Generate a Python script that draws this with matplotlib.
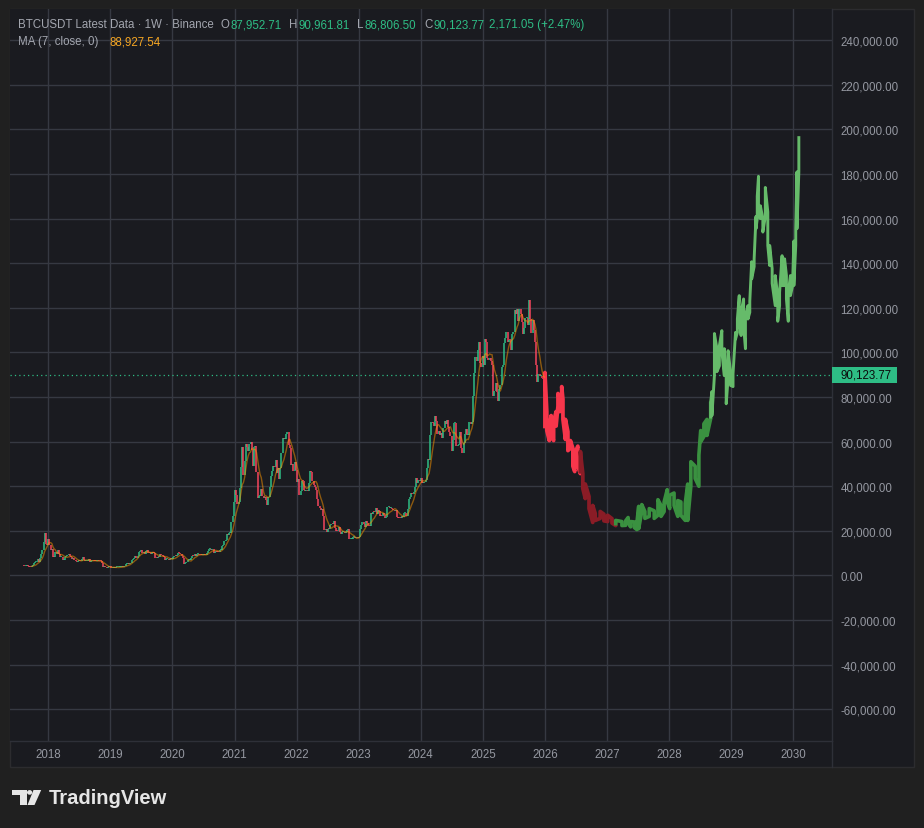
#!/usr/bin/env python

import numpy as np
import pandas as pd
import matplotlib
matplotlib.use('Agg')
import matplotlib.pyplot as plt
from matplotlib.patches import Rectangle, Circle, Polygon
from matplotlib.lines import Line2D
from matplotlib.transforms import blended_transform_factory

######################################################################
# Weekly closes of BTCUSDT (thousands of USD), one list per calendar year.
# Week starts on Monday; the open of a week is the previous close.

first_week = '2017-08-14'
first_open = 4.26

closes_2017 = [4.09, 4.35, 4.65,
               4.13, 3.70, 3.66, 4.38,
               4.61, 5.70, 6.00, 6.15, 7.35,
               5.86, 8.00, 9.78, 11.25,
               15.0, 19.1, 14.0, 13.8]
closes_2018 = [16.2, 13.6, 11.5, 11.8, 8.2,
               8.1, 10.4, 9.6, 11.5,
               9.5, 8.2, 8.5, 6.9,
               7.0, 8.3, 8.9, 9.35, 9.65,
               8.7, 8.5, 7.35, 7.7,
               6.75, 6.45, 6.15, 6.35,
               6.75, 6.35, 7.4, 8.2, 7.0,
               6.3, 6.4, 6.7, 7.3,
               6.2, 6.5, 6.7, 6.6,
               6.55, 6.3, 6.45, 6.45, 6.4,
               6.35, 5.6, 4.0, 4.1,
               3.6, 3.2, 3.95, 3.85, 4.05]
closes_2019 = [3.5, 3.55, 3.55, 3.4,
               3.65, 3.65, 3.75, 3.8,
               3.9, 4.0, 3.98, 4.1,
               5.05, 5.07, 5.3, 5.15, 5.75,
               6.95, 7.25, 8.05, 8.7,
               7.65, 8.95, 10.7, 10.8,
               11.45, 10.2, 10.55, 9.5, 10.85,
               11.3, 10.3, 10.1, 9.6,
               10.4, 10.3, 10.0, 8.05, 7.85,
               8.3, 8.2, 9.55, 9.2,
               8.8, 8.5, 6.9, 7.4,
               7.5, 7.1, 7.5, 7.3, 7.35]
closes_2020 = [8.2, 8.7, 8.6, 9.35,
               10.15, 9.9, 9.7, 8.55,
               8.05, 5.35, 5.8, 5.9, 6.8,
               6.9, 7.1, 7.7, 8.9,
               8.7, 9.7, 8.7, 9.45,
               9.65, 9.4, 9.3, 9.0, 9.1,
               9.25, 9.2, 9.9, 11.1,
               11.7, 11.85, 11.65, 11.7, 10.25,
               10.45, 11.1, 10.75, 10.65,
               11.3, 11.5, 13.05, 13.8,
               15.5, 16.0, 18.4, 18.2, 19.15,
               19.2, 23.9, 26.5, 33.0]
closes_2021 = [38.2, 36.0, 32.1, 33.1,
               39.2, 48.6, 57.4, 45.2,
               51.2, 59.0, 57.4, 55.8, 58.9,
               60.0, 56.2, 49.1, 57.8,
               58.2, 46.4, 34.7, 35.7, 35.8,
               39.0, 35.5, 34.7, 35.3,
               33.9, 31.8, 35.4, 39.8,
               44.6, 47.0, 49.3, 48.8, 51.8,
               46.1, 48.3, 43.2, 48.2,
               55.0, 61.5, 61.0, 61.3,
               63.3, 64.4, 58.6, 57.3, 49.4,
               50.1, 46.7, 50.8, 47.3]
closes_2022 = [41.9, 43.1, 36.3, 37.9, 42.4,
               42.2, 38.4, 37.7, 38.4,
               37.8, 41.3, 46.8, 46.4,
               42.2, 40.4, 39.5, 38.5,
               34.1, 31.3, 30.3, 29.4, 29.9,
               26.6, 20.6, 21.0, 19.3,
               20.9, 20.8, 22.6, 23.3,
               23.2, 24.4, 21.5, 20.0, 19.8,
               21.8, 19.4, 18.8, 19.3,
               19.4, 19.2, 19.6, 20.6, 21.0,
               16.3, 16.3, 16.5, 17.1,
               17.1, 16.8, 16.8, 16.6]
closes_2023 = [17.1, 20.9, 22.7, 23.8, 22.9,
               21.8, 24.6, 23.6, 22.4,
               22.1, 28.0, 27.5, 28.5,
               28.3, 30.3, 27.8, 29.2,
               28.9, 26.8, 26.7, 28.1, 27.2,
               25.9, 26.3, 30.5, 30.6,
               30.2, 30.2, 29.8, 29.3, 29.0,
               29.4, 26.1, 26.0, 25.9,
               25.8, 26.5, 26.3, 27.9,
               27.9, 26.8, 29.9, 34.5, 35.0,
               37.1, 36.5, 37.4, 39.5,
               43.8, 41.4, 43.0, 42.3]
closes_2024 = [43.9, 41.7, 41.6, 42.0, 43.0,
               48.3, 52.1, 51.7, 63.1,
               68.9, 68.4, 67.2, 71.3,
               69.4, 63.4, 64.9, 63.1, 64.0,
               61.5, 66.3, 69.3, 67.8,
               69.6, 66.7, 64.3, 62.7,
               55.9, 60.8, 68.2, 68.2, 58.1,
               58.7, 59.0, 64.2, 57.3,
               54.8, 59.2, 63.6, 65.6, 63.0,
               63.0, 69.0, 68.0, 68.8,
               80.4, 90.6, 97.9, 96.4,
               101.2, 104.5, 95.2, 93.7, 98.3]
closes_2025 = [94.5, 106.1, 104.8, 97.7,
               96.5, 97.5, 96.3, 94.3,
               80.7, 82.6, 86.1, 82.4, 78.4,
               83.7, 85.2, 93.7, 94.3,
               104.1, 106.5, 109.0, 104.6,
               105.7, 105.5, 100.9, 108.4, 109.2,
               119.1, 117.3, 119.4, 114.2,
               119.3, 117.4, 113.5, 108.2,
               111.1, 115.3, 115.3, 112.2, 123.5,
               115.0, 108.6, 114.5, 110.0,
               104.7, 94.3, 86.8, 90.4,
               89.3, 89.5, 88.5, 87.95271, 90.12377]

# Projected path after the last candle: bar time (decimal year), low, high (thousands)
proj_year = [2026.00, 2026.03, 2026.07, 2026.10, 2026.14, 2026.18, 2026.21, 2026.24,
             2026.27, 2026.29, 2026.33, 2026.37, 2026.41, 2026.45, 2026.48, 2026.53,
             2026.57, 2026.61, 2026.65, 2026.71, 2026.77, 2026.81, 2026.89, 2026.95,
             2027.01, 2027.08, 2027.14, 2027.24, 2027.30, 2027.34, 2027.38, 2027.44,
             2027.48, 2027.51, 2027.56, 2027.61, 2027.68, 2027.76, 2027.82, 2027.87,
             2027.92, 2027.97, 2028.01, 2028.08, 2028.14, 2028.19, 2028.26, 2028.30,
             2028.35, 2028.42, 2028.48, 2028.51, 2028.56, 2028.61, 2028.67, 2028.69,
             2028.73, 2028.77, 2028.81, 2028.85, 2028.89, 2028.92, 2028.95, 2028.99,
             2029.03, 2029.07, 2029.10, 2029.13, 2029.16, 2029.20, 2029.23, 2029.27,
             2029.30, 2029.33, 2029.37, 2029.40, 2029.42, 2029.44, 2029.47, 2029.51,
             2029.55, 2029.59, 2029.62, 2029.66, 2029.71, 2029.75, 2029.78, 2029.82,
             2029.86, 2029.89, 2029.92, 2029.955, 2029.99, 2030.01, 2030.04, 2030.06,
             2030.09]
proj_low = [66, 65, 60.5, 62.8, 60.5, 67, 76, 73.5,
            78, 70, 61, 56, 57, 49, 46.6, 49,
            45.7, 39, 34.5, 30, 23.8, 24.7, 25.6, 24.5,
            24.2, 23.5, 22.4, 22.4, 22.5, 23.8, 21.8, 21.5,
            20.6, 21, 28.7, 25.6, 26.5, 25.6, 27, 26.5,
            28.7, 33, 30, 31.4, 26.5, 27, 24.7, 24.7,
            40, 43.5, 40, 60, 62.3, 62.8, 70.4, 71.7,
            89.6, 91.4, 94, 100.4, 89.6, 77, 88.3, 85.2,
            84.7, 106, 109, 115, 107.6, 112, 101.7, 115,
            118, 133, 138.5, 155.5, 160, 164.5, 160, 154,
            161, 148, 139, 131, 121, 114, 121, 130,
            130, 124, 114, 125.5, 130, 130, 148, 155.5,
            181]
proj_high = [91, 73.5, 66.8, 71.7, 69, 73.5, 81.6, 78.4,
             84.7, 79, 70, 64.5, 60.5, 57, 54.7, 58,
             55.6, 45.7, 41, 35.4, 31.4, 27.8, 28.7, 27.5,
             27, 25.5, 24.7, 24.2, 24.5, 26, 24.2, 24,
             23.3, 31, 31.8, 28.7, 30, 29, 34, 31.4,
             33, 38.5, 36, 37, 33.6, 33, 32.3, 41,
             51, 49, 54, 65, 68, 70, 78, 82.5,
             108.5, 101.7, 103, 109.8, 101.7, 89.6, 100.8, 91.4,
             90.5, 109, 115, 125.5, 118, 124, 116.5, 121,
             123, 140.7, 142, 161, 170, 179, 165.8, 160,
             174, 163, 148, 137.6, 134.5, 125.5, 127, 143.4,
             142, 134.5, 127, 134.5, 131.8, 150, 155.5, 181,
             197]
phase_end = [2026.58, 2027.20, 2028.68, 2030.10]
phase_colors = ['#f7364b', '#8a1c26', '#3a9140', '#66bb6a']
phase_width = [2.7, 2.7, 2.6, 2.1]

year_ticks = list(range(2018, 2031))
price_ticks = list(range(-60000, 240001, 20000))
last_price = 90123.77

######################################################################

W, H = 924, 829
OUTER = '#202020'
BG = '#1a1b20'
GRID = '#363942'
TEXT = '#9598a1'
UP = '#2ebd85'
DOWN = '#f6465d'

plt.rcParams['font.family'] = ['Liberation Sans', 'DejaVu Sans']


def fx(x):
    return x / W


def fy(y):
    return 1 - y / H


def decimal_year(d):
    days = np.where(d.is_leap_year, 366, 365)
    return np.asarray(d.year + (d.dayofyear - 1) / days, dtype=float)


fig = plt.figure(figsize=(W / 100, H / 100), dpi=100, facecolor=OUTER)

# Chart container with the price and time scales (kept behind the axes)
fig.patches.append(Rectangle((fx(10), fy(768)), fx(914) - fx(10), fy(10) - fy(768),
                             transform=fig.transFigure, facecolor=BG,
                             edgecolor='#2c2c2f', linewidth=1.0, zorder=-10))
fig.add_artist(Line2D([fx(832.3), fx(832.3)], [fy(741.7), fy(768)],
                      color='#2e3038', linewidth=1.0))

ax = fig.add_axes([fx(10), fy(741.7), fx(832.3) - fx(10), fy(10) - fy(741.7)])
ax.set_zorder(1)
ax.set_facecolor(BG)
ax.set_xlim(2017.383, 2030.629)
ax.set_ylim(-74076, 254019)

# Grid and scales
ax.set_axisbelow(True)
ax.set_xticks(year_ticks)
ax.set_xticklabels([str(y) for y in year_ticks])
ax.set_yticks(price_ticks)
ax.set_yticklabels([f"{v:,.2f}" for v in price_ticks])
ax.yaxis.tick_right()
ax.grid(True, color=GRID, linewidth=1.0)
ax.tick_params(axis='both', length=0, labelsize=8.3, labelcolor=TEXT)
ax.tick_params(axis='y', pad=6)
ax.tick_params(axis='x', pad=5)
for side in ['top', 'left']:
    ax.spines[side].set_visible(False)
for side in ['bottom', 'right']:
    ax.spines[side].set_color('#2e3038')
    ax.spines[side].set_linewidth(1.0)

# Candles
closes = np.array(closes_2017 + closes_2018 + closes_2019 + closes_2020 + closes_2021
                  + closes_2022 + closes_2023 + closes_2024 + closes_2025) * 1000
opens = np.concatenate([[first_open * 1000], closes[:-1]])
weeks = pd.date_range(first_week, periods=len(closes), freq='7D')
t = decimal_year(weeks)
lo = np.minimum(opens, closes)
hi = np.maximum(opens, closes)
hi = np.maximum(hi, lo + 450)
ax.vlines(t, lo, hi, colors=np.where(closes >= opens, UP, DOWN), linewidth=1.1, zorder=3)

# MA (7, close)
ma = pd.Series(closes).rolling(7).mean()
ax.plot(t, ma, color='#ff9800', alpha=0.5, linewidth=1.0, zorder=4)

# Projected path, drawn as joined high/low swings in four phases
py = np.array(proj_year)
plo = np.array(proj_low) * 1000
phi = np.array(proj_high) * 1000
start = 0
for end, col, lw in zip(phase_end, phase_colors, phase_width):
    last = int(np.where(py <= end)[0][-1])
    xs, ys = [], []
    for i in range(max(start - 1, 0), last + 1):
        pair = (plo[i], phi[i]) if i % 2 == 0 else (phi[i], plo[i])
        xs += [py[i], py[i]]
        ys += list(pair)
    ax.plot(xs, ys, color=col, linewidth=lw, solid_capstyle='butt', zorder=3)
    start = last + 1

# Last price line and label
ax.axhline(last_price, color=UP, linewidth=0.9, linestyle=(0, (1, 2.5)), zorder=2)
trans = blended_transform_factory(ax.transAxes, ax.transData)
vpp = (254019 + 74076) / 731.7
ax.add_patch(Rectangle((1.0, last_price - 8 * vpp), 64.5 / 822.3, 16 * vpp,
                       transform=trans, facecolor=UP, edgecolor='none',
                       clip_on=False, zorder=5))
ax.text(1.0 + 8.4 / 822.3, last_price, f"{last_price:,.2f}", transform=trans,
        ha='left', va='center', fontsize=8.3, color='#0b0b0b', clip_on=False, zorder=6)

# Legend header
GREY = '#a3a6af'
line1 = [(18.3, "BTCUSDT Latest Data \u00b7 1W \u00b7 Binance", GREY),
         (220.5, "O", GREY), (230.5, "87,952.71", UP),
         (288.8, "H", GREY), (298.5, "90,961.81", UP),
         (357.5, "L", GREY), (364.5, "86,806.50", UP),
         (424.0, "C", GREY), (433.5, "90,123.77", UP),
         (489.0, "2,171.05 (+2.47%)", UP)]
for x, s, c in line1:
    fig.text(fx(x), fy(25), s, color=c, fontsize=8.3, ha='left', va='center')
fig.text(fx(18.3), fy(42.3), "MA (7, close, 0)", color=GREY, fontsize=8.3, ha='left', va='center')
fig.text(fx(110), fy(42.3), "88,927.54", color='#f5a623', fontsize=8.3, ha='left', va='center')

# TradingView footer
LOGO = '#e6e6e6'
fig.patches.append(Rectangle((fx(11.8), fy(795.8)), fx(26.5) - fx(11.8), fy(791) - fy(795.8),
                             transform=fig.transFigure, facecolor=LOGO, edgecolor='none'))
fig.patches.append(Rectangle((fx(19.5), fy(806)), fx(26.5) - fx(19.5), fy(791) - fy(806),
                             transform=fig.transFigure, facecolor=LOGO, edgecolor='none'))
fig.patches.append(Circle((fx(29.6), fy(793.4)), 2.6 / W, transform=fig.transFigure,
                          facecolor=LOGO, edgecolor='none'))
fig.patches.append(Polygon([(fx(33.5), fy(791)), (fx(41.2), fy(791)),
                            (fx(34.5), fy(806)), (fx(27.5), fy(806))],
                           closed=True, transform=fig.transFigure,
                           facecolor=LOGO, edgecolor='none'))
fig.text(fx(49), fy(798.5), "TradingView", color=LOGO, fontsize=14.5,
         fontweight='bold', ha='left', va='center')

plt.savefig('out.png', dpi=100, facecolor=OUTER)
